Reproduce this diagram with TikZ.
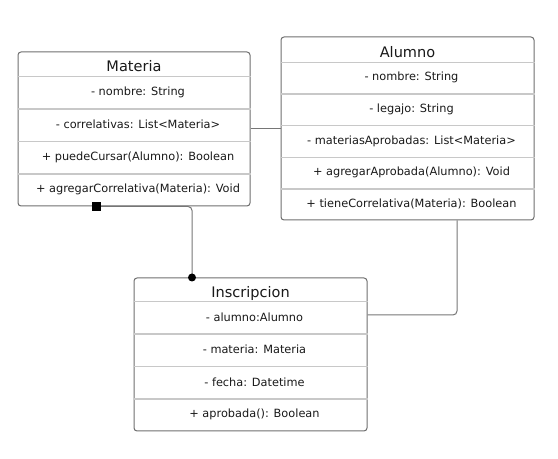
\documentclass[tikz,border=0pt]{standalone}
\usepackage{fontspec}
\setmainfont{DejaVu Sans}
\usetikzlibrary{
    matrix,         % class boxes as one-column matrices
    calc,           % offsets from anchors
    positioning
}
\newcommand{\pxunit}{0.75pt}
\definecolor{boxborder}{HTML}{6E6E6E}
\definecolor{rowline}{HTML}{C8C8C8}
\definecolor{linkline}{HTML}{767676}
\tikzset{
    class box/.style={
        matrix of nodes,
        draw=boxborder, line width=\pxunit,
        rounded corners=3*\pxunit,
        inner sep=0pt, row sep=0pt
    },
    member/.style={
        anchor=center, inner sep=0pt, text=black!90,
        font=\fontsize{8.5}{10}\selectfont,
        execute at begin node=\hspace*{6pt}
    },
    class title/.style={
        font=\fontsize{10.9}{13}\selectfont,
        text height=11.5pt, text depth=0pt,
        execute at begin node=\hspace*{-6pt}
    },
    row line/.style={draw=rowline, line width=1.5*\pxunit},
    link/.style={draw=linkline, line width=\pxunit, rounded corners=4*\pxunit},
    comp mark/.style={sharp corners, fill=black, minimum size=9*\pxunit, inner sep=0pt},
    dot mark/.style={circle, fill=black, minimum size=8*\pxunit, inner sep=0pt}
}

\begin{document}
\begin{tikzpicture}[x=\pxunit, y=-\pxunit]
    \useasboundingbox (0,0) rectangle (558,459);

    \matrix (materia) [
        class box,
        nodes = {member, minimum width=232*\pxunit, minimum height=32.5*\pxunit}
    ] at (134,129) {
        |[class title, minimum height=24*\pxunit]| Materia \\
        - nombre: String \\
        - correlativas: List<Materia> \\
        + puedeCursar(Alumno): Boolean \\
        + agregarCorrelativa(Materia): Void \\
    };
    \foreach \r in {1,...,4}
        \draw[row line] (materia-\r-1.south west) -- (materia-\r-1.south east);

    \matrix (alumno) [
        class box,
        nodes = {member, minimum width=253*\pxunit, minimum height=31.6*\pxunit}
    ] at (407.5,128.5) {
        |[class title, minimum height=25*\pxunit]| Alumno \\
        - nombre: String \\
        - legajo: String \\
        - materiasAprobadas: List<Materia> \\
        + agregarAprobada(Alumno): Void \\
        + tieneCorrelativa(Materia): Boolean \\
    };
    \foreach \r in {1,...,5}
        \draw[row line] (alumno-\r-1.south west) -- (alumno-\r-1.south east);

    \matrix (inscripcion) [
        class box,
        nodes = {member, minimum width=233*\pxunit, minimum height=32.5*\pxunit}
    ] at (250.5,354.5) {
        |[class title, minimum height=23*\pxunit]| Inscripcion \\
        - alumno:Alumno \\
        - materia: Materia \\
        - fecha: Datetime \\
        + aprobada(): Boolean \\
    };
    \foreach \r in {1,...,4}
        \draw[row line] (inscripcion-\r-1.south west) -- (inscripcion-\r-1.south east);

    % associations
    \draw[link] (materia.east) -- (materia.east -| alumno.west);
    \draw[link] ($(materia.south)+(-38,0)$) node[comp mark] (comp start) {}
        -| ($(inscripcion.north)+(-58.5,0)$) node[dot mark] (dot end) {};
    \draw[link] ($(alumno.south)+(49.5,0)$) |- ($(inscripcion.east)+(0,-39.5)$);
\end{tikzpicture}
\end{document}
